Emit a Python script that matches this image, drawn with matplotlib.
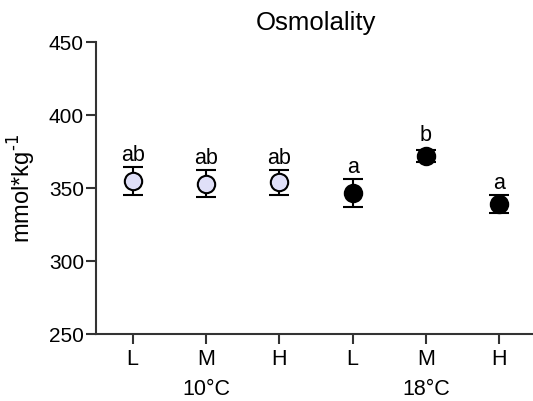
import matplotlib
matplotlib.use("Agg")
import matplotlib.pyplot as plt

plt.rcParams['font.family'] = ['Liberation Sans', 'DejaVu Sans']

categories = ["L", "M", "H", "L", "M", "H"]
groups = ["10°C", "18°C"]
means = [355, 353, 354, 346.5, 372, 339]
errors = [9.5, 9, 8.5, 9.5, 4, 6]
letters = ["ab", "ab", "ab", "a", "b", "a"]
fills = ["#E0E0F8"] * 3 + ["black"] * 3

fig = plt.figure(figsize=(5.33, 4.02), dpi=100)
ax = fig.add_axes([96/533, 1 - 335/402, 440/533, (335 - 43)/402])

x = list(range(1, len(categories) + 1))
for xi, m, e, f in zip(x, means, errors, fills):
    ax.errorbar(xi, m, yerr=e, fmt='o', ms=12.5, mfc=f, mec='black', mew=1.5,
                ecolor='black', elinewidth=1.5, capsize=7, capthick=1.5, zorder=3)
for xi, m, e, t in zip(x, means, errors, letters):
    top = m + max(e, 6)
    ax.text(xi, top + 1.5, t, ha='center', va='bottom', fontsize=15.5)

ax.set_xlim(0.5, 6.5)
ax.set_ylim(250, 450)
ax.set_yticks([250, 300, 350, 400, 450])
ax.set_xticks(x)
ax.set_xticklabels(categories)
ax.tick_params(axis='both', labelsize=15, width=1.5, length=7.2, color='#333333', pad=1.5)
ax.tick_params(axis='x', pad=3, labelsize=15.5)
for s in ['top', 'right']:
    ax.spines[s].set_visible(False)
for s in ['left', 'bottom']:
    ax.spines[s].set_linewidth(1.5)
    ax.spines[s].set_color('#333333')

ax.set_ylabel("mmol*kg$^{\\text{-}1}$", fontsize=17, labelpad=8)
ax.set_title("Osmolality", fontsize=18.5, pad=9)

for gi, g in enumerate(groups):
    ax.text(2 + 3 * gi, -0.188, g, transform=ax.get_xaxis_transform(),
            ha='center', va='center', fontsize=15.5)

fig.savefig("out.png", dpi=100)
